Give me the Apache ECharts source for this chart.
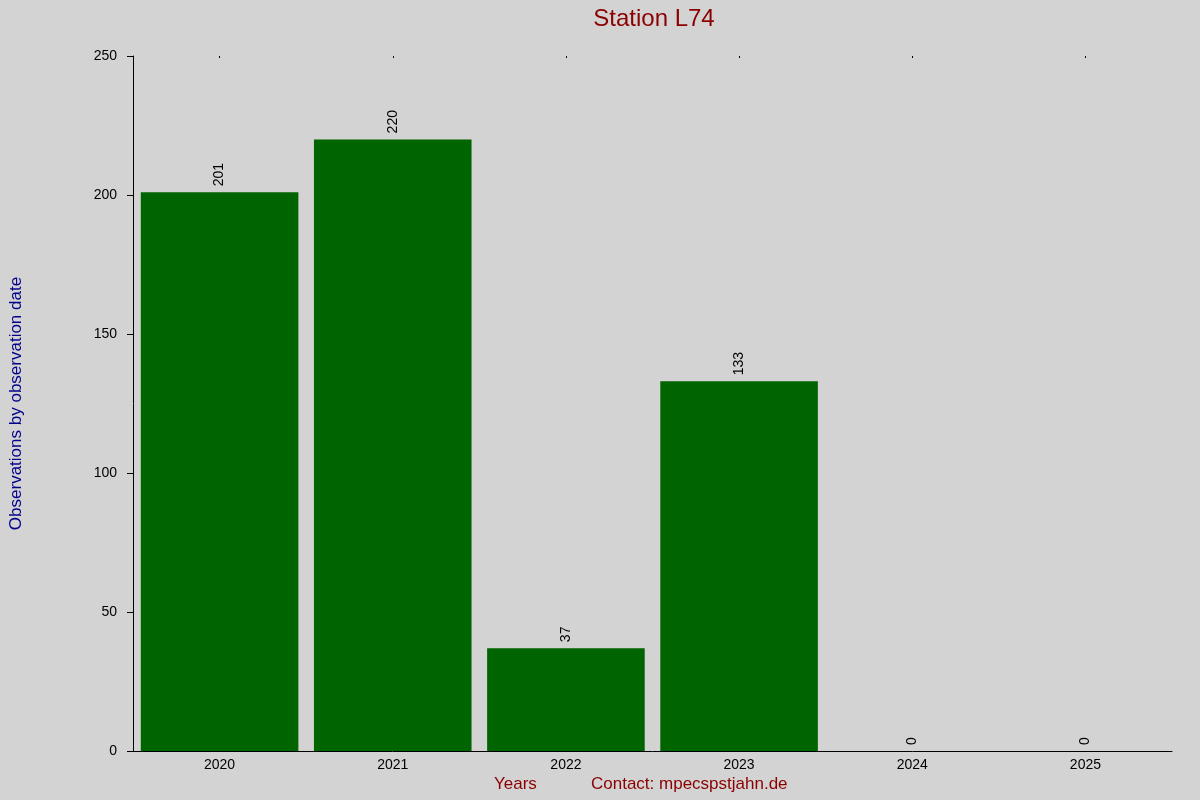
<!DOCTYPE html>
<html><head><meta charset="utf-8">
<script src="https://cdn.jsdelivr.net/npm/echarts@6/dist/echarts.min.js"></script>
<style>html,body{margin:0;padding:0;background:#d3d3d3}#c{width:1200px;height:800px}</style>
</head><body><div id="c"></div>
<script>
const categories = ['2020','2021','2022','2023','2024','2025'];
const values = [201, 220, 37, 133, 0, 0];
const yTicks = [0, 50, 100, 150, 200, 250];
const chart = echarts.init(document.getElementById('c'));
chart.setOption({
  backgroundColor: '#d3d3d3',
  animation: false,
  title: { text: 'Station L74', left: 649, top: 2, textAlign: 'center',
    textStyle: { color: '#8b0000', fontSize: 24, fontWeight: 'normal', fontFamily: 'Liberation Sans' } },
  graphic: [
    { type: 'text', left: 494, top: 776, style: { text: 'Years', fill: '#8b0000', fontSize: 17, fontFamily: 'Liberation Sans' } },
    { type: 'text', left: 591, top: 776, style: { text: 'Contact: mpecspstjahn.de', fill: '#8b0000', fontSize: 17, fontFamily: 'Liberation Sans' } }
  ],
  grid: { left: 126, right: 28, top: 56, bottom: 49 },
  xAxis: [{
    type: 'category', data: categories,
    axisLine: { lineStyle: { color: '#000' } },
    axisTick: { show: false },
    axisLabel: { color: '#000', fontSize: 14, fontFamily: 'Liberation Sans', margin: 7 }
  }, {
    type: 'category', data: categories, position: 'top',
    axisLine: { show: false },
    axisTick: { show: true, alignWithLabel: true, inside: true, length: 2, lineStyle: { color: '#000' } },
    axisLabel: { show: false }
  }],
  yAxis: {
    type: 'value', min: 0, max: 250, interval: 50,
    name: 'Observations by observation date', nameLocation: 'middle', nameGap: 108,
    nameTextStyle: { color: '#00008b', fontSize: 17, fontFamily: 'Liberation Sans' },
    axisLine: { show: true, lineStyle: { color: '#000' } },
    axisTick: { show: true, length: 6, lineStyle: { color: '#000' } },
    splitLine: { show: false },
    axisLabel: { color: '#000', fontSize: 14, fontFamily: 'Liberation Sans', margin: 16,
      formatter: v => yTicks.includes(v) ? String(v) : '' }
  },
  series: [{
    type: 'bar', data: values, barCategoryGap: '9%',
    itemStyle: { color: '#006400' },
    label: { show: true, position: 'top', rotate: 90, align: 'left', verticalAlign: 'middle', distance: 6,
      color: '#000', fontSize: 14, fontFamily: 'Liberation Sans' }
  }]
});
</script></body></html>
